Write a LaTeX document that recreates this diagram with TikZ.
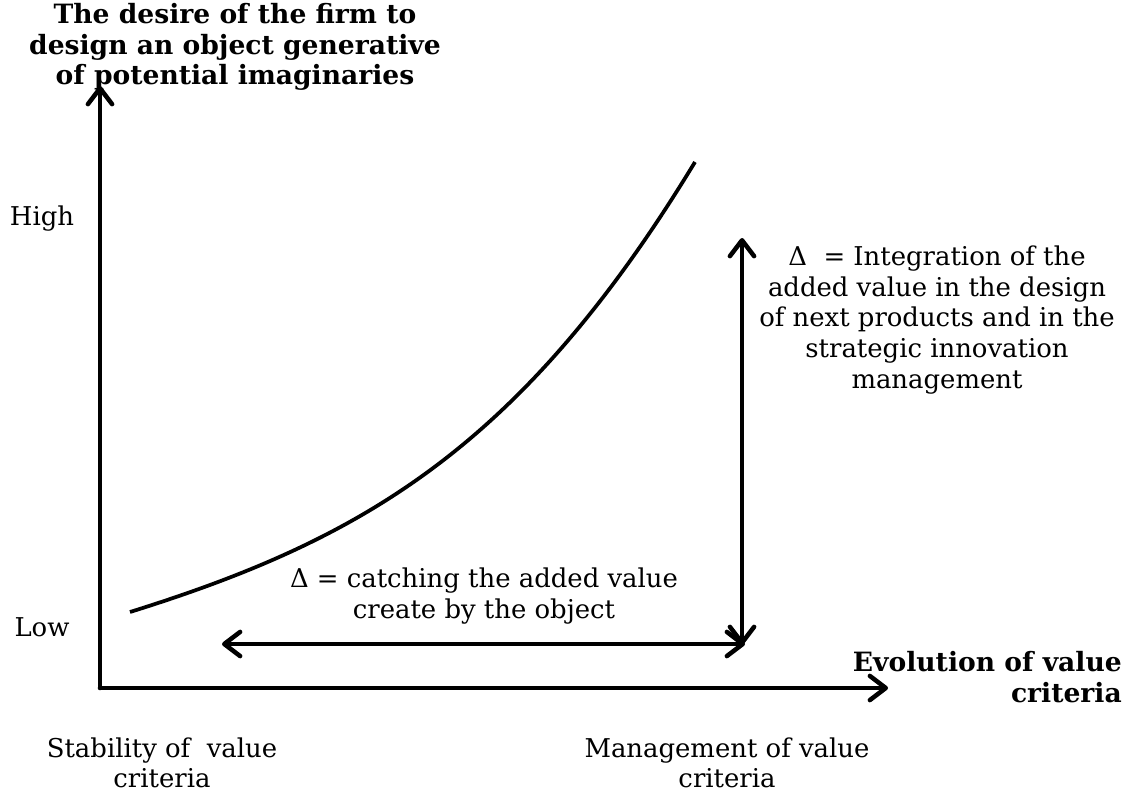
\documentclass[tikz,border=0pt]{standalone}
\usepackage{fontspec}
\setmainfont{DejaVu Serif}
\usetikzlibrary{arrows.meta}
\tikzset{>={Straight Barb[length=4.2mm,width=6.4mm,round]}}

\begin{document}
\begin{tikzpicture}[x=0.02646cm, y=-0.02646cm, label/.style={align=center, font=\fontsize{19.5}{23}\selectfont, inner sep=0pt}, boldlabel/.style={label, font=\fontsize{20}{23}\selectfont\bfseries}, axis/.style={line width=3.4pt, line cap=round}, arrowline/.style={line width=3.4pt, <->}]
    \useasboundingbox (0,0) rectangle (1141,798);
    
    %Nodes
    \node[boldlabel](title) at (235,47){The desire of the firm to\\design an object generative\\of potential imaginaries};
    \node[label](high) at (42,219){High};
    \node[label](low) at (42,627){Low};
    \node[boldlabel, align=right, anchor=east](xtitle) at (1122,677){Evolution of value\\criteria};
    \node[label](stable) at (162,763){Stability of~~value\\criteria};
    \node[label](manage) at (727,763){Management of value\\criteria};
    \node[label](catch) at (484,596){Δ = catching the added value\\create by the object};
    \node[label](integ) at (937,320){Δ~~= Integration of the\\added value in the design\\of next products and in the\\strategic innovation\\management};
    \coordinate (origin) at (100,688);
    \coordinate (ytip) at (100,86);
    \coordinate (xtip) at (888,688);
    \coordinate (vtop) at (742,238);
    \coordinate (vbot) at (742,645);
    \coordinate (hleft) at (222,644);
    \coordinate (hright) at (745,644);
    \coordinate (start) at (130,612);
    \coordinate (end) at (695,162);
    
    %Lines
    \draw[axis, ->] (origin) -- (ytip);
    \draw[axis, ->] (origin) -- (xtip);
    \draw[arrowline] (vtop) -- (vbot);
    \draw[arrowline] (hleft) -- (hright);
    \draw[line width=2.8pt] (start) .. controls (360,540) and (520,450) .. (end);
    
\end{tikzpicture}
\end{document}
